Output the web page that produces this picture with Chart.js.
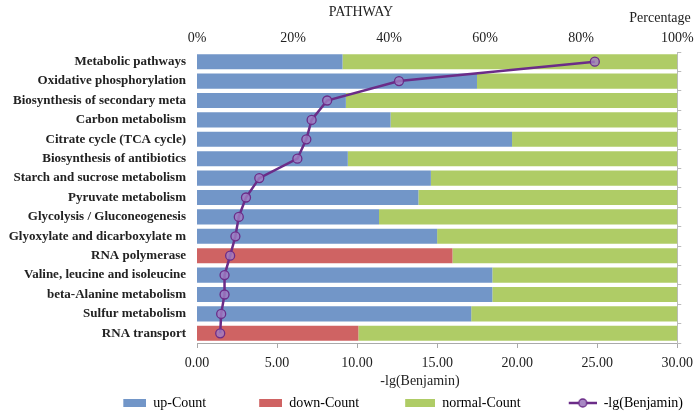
<!DOCTYPE html>
<html>
<head>
<meta charset="utf-8">
<script src="https://cdn.jsdelivr.net/npm/chart.js@4.4.1/dist/chart.umd.min.js"></script>
<style>
  html, body { margin: 0; padding: 0; background: #fff; }
  #wrap { width: 700px; height: 416px; position: relative; }
</style>
</head>
<body>
<div id="wrap"><canvas id="myChart"></canvas></div>
<script>
// data
const pathways = [
  'Metabolic pathways',
  'Oxidative phosphorylation',
  'Biosynthesis of secondary meta',
  'Carbon metabolism',
  'Citrate cycle (TCA cycle)',
  'Biosynthesis of antibiotics',
  'Starch and sucrose metabolism',
  'Pyruvate metabolism',
  'Glycolysis / Gluconeogenesis',
  'Glyoxylate and dicarboxylate m',
  'RNA polymerase',
  'Valine, leucine and isoleucine',
  'beta-Alanine metabolism',
  'Sulfur metabolism',
  'RNA transport'
];
const upCount     = [30.3, 58.3, 31.0, 40.3, 65.6, 31.4, 48.7, 46.1, 37.9, 50.0, 0, 61.5, 61.5, 57.1, 0];
const downCount   = [0, 0, 0, 0, 0, 0, 0, 0, 0, 0, 53.2, 0, 0, 0, 33.6];
const normalCount = [69.7, 41.7, 69.0, 59.7, 34.4, 68.6, 51.3, 53.9, 62.1, 50.0, 46.8, 38.5, 38.5, 42.9, 66.4];
const benjamin    = [24.85, 12.62, 8.13, 7.16, 6.83, 6.27, 3.89, 3.06, 2.61, 2.40, 2.07, 1.72, 1.72, 1.51, 1.45];

const pctTicks = [0, 20, 40, 60, 80, 100];
const benTicks = [0, 5, 10, 15, 20, 25, 30];

const BLUE = '#7296c8', RED = '#cf6363', GREEN = '#afcc66', PURPLE = '#6b2c88';

Chart.defaults.font.family = "'Liberation Serif', 'Times New Roman', serif";
Chart.defaults.color = '#222';

// legend marker, drawn at the right end of a 66px wide box
function marker(kind, color, w){
  const c = document.createElement('canvas');
  c.width = 66; c.height = 12;
  const g = c.getContext('2d');
  if (kind === 'line') {
    g.strokeStyle = PURPLE; g.lineWidth = 2.5;
    g.beginPath(); g.moveTo(66 - w, 6); g.lineTo(66, 6); g.stroke();
    g.beginPath(); g.arc(66 - w / 2, 6, 4, 0, Math.PI * 2);
    g.fillStyle = '#a888c4'; g.fill();
    g.lineWidth = 1.3; g.stroke();
  } else {
    g.fillStyle = color;
    g.fillRect(66 - w, 2, w, 8);
  }
  return c;
}

const titles = {
  id: 'titles',
  afterDraw(chart){
    const ctx = chart.ctx;
    ctx.save();
    ctx.fillStyle = '#222';
    ctx.font = "14px 'Liberation Serif'";
    ctx.textAlign = 'center';
    ctx.textBaseline = 'middle';
    ctx.fillText('PATHWAY', 361, 12);
    ctx.fillText('Percentage', 660, 18);
    ctx.fillText('-lg(Benjamin)', 420, 381);
    ctx.restore();
  }
};

const ctx = document.getElementById('myChart');
new Chart(ctx, {
  type: 'bar',
  data: {
    labels: pathways,
    datasets: [
      {
        type: 'line',
        label: '-lg(Benjamin)',
        data: benjamin,
        indexAxis: 'y',
        xAxisID: 'x',
        yAxisID: 'y',
        order: -1,
        borderColor: PURPLE,
        borderWidth: 2.5,
        pointRadius: 4.5,
        pointBackgroundColor: 'rgba(160,125,195,0.8)',
        pointBorderColor: PURPLE,
        pointBorderWidth: 1.3,
        tension: 0
      },
      { label: 'up-Count', data: upCount, backgroundColor: BLUE, xAxisID: 'xTop', yAxisID: 'y', barPercentage: 0.78, categoryPercentage: 1 },
      { label: 'down-Count', data: downCount, backgroundColor: RED, xAxisID: 'xTop', yAxisID: 'y', barPercentage: 0.78, categoryPercentage: 1 },
      { label: 'normal-Count', data: normalCount, backgroundColor: GREEN, xAxisID: 'xTop', yAxisID: 'y', barPercentage: 0.78, categoryPercentage: 1 }
    ]
  },
  options: {
    indexAxis: 'y',
    maintainAspectRatio: false,
    responsive: true,
    animation: false,
    layout: { padding: { left: 0, right: 7, top: 0, bottom: -4 } },
    plugins: {
      tooltip: { enabled: false },
      legend: {
        position: 'bottom',
        align: 'end',
        labels: {
          usePointStyle: true,
          pointStyleWidth: 66,
          padding: 10,
          color: '#222',
          font: { size: 14 },
          generateLabels(){
            return [
              { text: 'up-Count', pointStyle: marker('bar', BLUE, 23), fillStyle: BLUE, strokeStyle: 'rgba(0,0,0,0)', lineWidth: 0, hidden: false, datasetIndex: 1 },
              { text: 'down-Count', pointStyle: marker('bar', RED, 23), fillStyle: RED, strokeStyle: 'rgba(0,0,0,0)', lineWidth: 0, hidden: false, datasetIndex: 2 },
              { text: 'normal-Count', pointStyle: marker('bar', GREEN, 30), fillStyle: GREEN, strokeStyle: 'rgba(0,0,0,0)', lineWidth: 0, hidden: false, datasetIndex: 3 },
              { text: '-lg(Benjamin)', pointStyle: marker('line', PURPLE, 28), fillStyle: PURPLE, strokeStyle: 'rgba(0,0,0,0)', lineWidth: 0, hidden: false, datasetIndex: 0 }
            ];
          }
        }
      }
    },
    scales: {
      xTop: {
        type: 'linear',
        position: 'top',
        stacked: true,
        min: 0, max: 100,
        afterBuildTicks: s => { s.ticks = pctTicks.map(v => ({ value: v })); },
        grid: { display: false, drawTicks: false },
        border: { display: false },
        ticks: { padding: 5, font: { size: 14 }, color: '#222', callback: v => v + '%' },
        afterFit: s => { s.height = 52; }
      },
      x: {
        type: 'linear',
        position: 'bottom',
        min: 0, max: 30,
        afterBuildTicks: s => { s.ticks = benTicks.map(v => ({ value: v })); },
        grid: { drawOnChartArea: false, tickLength: 5, color: '#aaa' },
        border: { display: true, color: '#aaa' },
        ticks: { padding: 7, font: { size: 14 }, color: '#222', callback: v => Number(v).toFixed(2) },
        afterFit: s => { s.height = 43; }
      },
      y: {
        stacked: true,
        grid: { display: false, drawTicks: false },
        border: { display: false },
        ticks: { padding: 11, font: { size: 13, weight: 'bold' }, color: '#222' },
        afterFit: s => { s.width = 197; }
      },
      y2: {
        type: 'category',
        position: 'right',
        labels: pathways,
        grid: { drawOnChartArea: false, offset: true, tickLength: 4, color: '#bbb' },
        border: { display: true, color: '#bbb' },
        ticks: { display: false },
        afterFit: s => { s.width = 13; }
      }
    }
  },
  plugins: [titles]
});
</script>
</body>
</html>
